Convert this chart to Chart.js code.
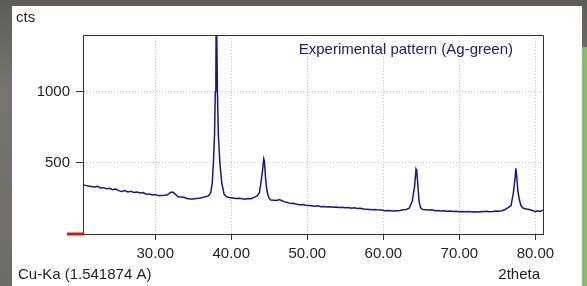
<!DOCTYPE html>
<html>
<head>
<meta charset="utf-8">
<script src="https://cdn.jsdelivr.net/npm/chart.js@4.4.1/dist/chart.umd.min.js"></script>
<style>
  html, body { margin: 0; padding: 0; }
  body { width: 587px; height: 286px; background: linear-gradient(#5f5b58, #77736f 30%, #6f6b68); position: relative; overflow: hidden; }
  #panel { position: absolute; left: 12px; top: 6px; width: 570px; height: 280px; background: #fff; }
  #stripe { position: absolute; left: 582px; top: 47px; width: 5px; height: 239px; background: #8cba68; }
</style>
</head>
<body>
<div id="panel"><canvas id="xrdChart"></canvas></div>
<div id="stripe"></div>
<script>
// Diffraction pattern
const twoTheta = [
    20.5, 20.8, 21.2, 21.6, 22.0, 22.4, 22.8, 23.2, 23.6, 24.0,
    24.4, 24.8, 25.2, 25.6, 26.0, 26.4, 26.8, 27.2, 27.6, 28.0,
    28.4, 28.8, 29.2, 29.6, 30.0, 30.4, 30.8, 31.2, 31.6, 32.0,
    32.3, 32.6, 33.0, 33.4, 33.8, 34.2, 34.6, 35.0, 35.4, 35.8,
    36.2, 36.6, 37.0, 37.3, 37.5, 37.65, 37.8, 37.9, 37.97, 38.03,
    38.12, 38.18, 38.3, 38.5, 38.75, 39.05, 39.4, 39.8, 40.2, 40.6,
    41.0, 41.4, 41.8, 42.2, 42.6, 43.0, 43.4, 43.7, 43.9, 44.1,
    44.27, 44.37, 44.5, 44.65, 44.8, 45.0, 45.2, 45.6, 46.0, 46.3,
    46.6, 47.0, 47.4, 47.8, 48.2, 48.6, 49.0, 49.4, 49.8, 50.2,
    50.6, 51.0, 51.4, 51.8, 52.2, 52.6, 53.0, 53.4, 53.8, 54.2,
    54.6, 55.0, 55.4, 55.8, 56.2, 56.6, 57.0, 57.4, 57.8, 58.2,
    58.6, 59.0, 59.4, 59.8, 60.2, 60.6, 61.0, 61.4, 61.8, 62.2,
    62.6, 63.0, 63.4, 63.8, 64.1, 64.3, 64.4, 64.55, 64.7, 64.9,
    65.2, 65.6, 66.0, 66.4, 66.8, 67.2, 67.6, 68.0, 68.4, 68.8,
    69.2, 69.6, 70.0, 70.4, 70.8, 71.2, 71.6, 72.0, 72.4, 72.8,
    73.2, 73.6, 74.0, 74.4, 74.8, 75.2, 75.6, 76.0, 76.4, 76.8,
    77.1, 77.3, 77.43, 77.55, 77.7, 77.9, 78.1, 78.4, 78.8, 79.2,
    79.6, 80.0, 80.3, 80.6, 81.0
];
const counts = [
    348, 342, 338, 334, 330, 335, 324, 326, 318, 322,
    312, 316, 305, 300, 306, 296, 300, 292, 295, 288,
    292, 280, 282, 274, 278, 270, 270, 272, 276, 292,
    295, 282, 262, 260, 258, 250, 246, 246, 250, 252,
    256, 262, 268, 290, 360, 500, 700, 1000, 1040, 1700,
    1700, 1000, 700, 500, 360, 280, 262, 256, 253, 250,
    252, 248, 244, 250, 248, 258, 268, 290, 360, 440,
    528, 510, 400, 320, 280, 250, 239, 238, 236, 242,
    236, 226, 222, 214, 216, 210, 206, 208, 202, 200,
    198, 196, 198, 192, 194, 190, 192, 188, 190, 186,
    188, 184, 186, 182, 184, 180, 181, 176, 174, 172,
    170, 172, 168, 169, 164, 166, 164, 162, 164, 166,
    170, 172, 181, 230, 330, 455, 440, 340, 230, 185,
    172, 170, 168, 170, 164, 166, 162, 164, 160, 162,
    158, 160, 157, 158, 156, 158, 155, 157, 154, 156,
    158, 160, 156, 158, 162, 160, 164, 172, 185, 200,
    289, 380, 462, 400, 300, 239, 200, 181, 176, 172,
    166, 157, 164, 158, 168
];
const xTicks = [30, 40, 50, 60, 70, 80];
const yTicks = [500, 1000];
// red marker at the origin, just left of the axis
const markerX = [18.4, 20.7];
const markerY = [0, 0];

const seriesLabel = 'Experimental pattern (Ag-green)';
const labelFont = { family: "'Liberation Sans', Arial, sans-serif", size: 15 };
const inkColor = '#1e1e1e';

const patternPoints = twoTheta.map((x, i) => ({ x: x, y: counts[i] }));
const markerPoints = markerX.map((x, i) => ({ x: x, y: markerY[i] }));

// box around the plot area
const framePlugin = {
    id: 'frame',
    afterDraw(chart) {
        const { ctx, chartArea: a } = chart;
        ctx.save();
        ctx.strokeStyle = '#333';
        ctx.lineWidth = 1;
        ctx.beginPath();
        ctx.moveTo(a.left + 0.5, a.top + 0.5);
        ctx.lineTo(a.right + 0.5, a.top + 0.5);
        ctx.lineTo(a.right + 0.5, a.bottom + 0.5);
        ctx.stroke();
        ctx.restore();
    }
};

// axis captions and the in-plot series label
const captionPlugin = {
    id: 'captions',
    afterDraw(chart) {
        const { ctx, chartArea: a, width, height } = chart;
        ctx.save();
        ctx.font = labelFont.size + 'px ' + labelFont.family;
        ctx.textBaseline = 'middle';
        ctx.fillStyle = inkColor;
        ctx.textAlign = 'left';
        ctx.fillText('cts', 4, 12);
        ctx.fillText('Cu-Ka (1.541874 A)', 6, height - 11);
        ctx.textAlign = 'right';
        ctx.fillText('2theta', a.right - 3, height - 11);
        ctx.fillStyle = '#20206e';
        ctx.fillText(seriesLabel, a.right - 30, a.top + 15);
        ctx.restore();
    }
};

new Chart(document.getElementById('xrdChart'), {
    type: 'line',
    data: {
        datasets: [
            {
                label: seriesLabel,
                data: patternPoints,
                borderColor: '#17178a',
                borderWidth: 1.5,
                pointRadius: 0,
                tension: 0
            },
            {
                label: 'marker',
                data: markerPoints,
                borderColor: '#d01818',
                borderWidth: 3,
                pointRadius: 0,
                clip: false
            }
        ]
    },
    options: {
        responsive: true,
        maintainAspectRatio: false,
        animation: false,
        layout: { padding: { left: 0, top: 29, right: 39, bottom: 0 } },
        plugins: { legend: { display: false }, tooltip: { enabled: false } },
        scales: {
            x: {
                type: 'linear',
                min: 20.5,
                max: 81,
                afterBuildTicks: s => { s.ticks = xTicks.map(v => ({ value: v })); },
                afterFit: s => { s.height = 52; },
                ticks: {
                    callback: v => Number(v).toFixed(2),
                    font: labelFont,
                    color: inkColor,
                    padding: 5,
                    maxRotation: 0,
                    autoSkip: false
                },
                grid: { color: '#c4c4c4', tickColor: '#333', tickLength: 6, tickBorderDash: [] },
                border: { color: '#333', dash: [1, 2] }
            },
            y: {
                min: 0,
                max: 1400,
                afterBuildTicks: s => { s.ticks = yTicks.map(v => ({ value: v })); },
                afterFit: s => { s.width = 71; },
                ticks: {
                    callback: v => String(v),
                    font: labelFont,
                    color: inkColor,
                    padding: 6
                },
                grid: { color: '#c4c4c4', tickColor: '#333', tickLength: 7, tickBorderDash: [] },
                border: { color: '#333', dash: [1, 2] }
            }
        }
    },
    plugins: [framePlugin, captionPlugin]
});
</script>
</body>
</html>
